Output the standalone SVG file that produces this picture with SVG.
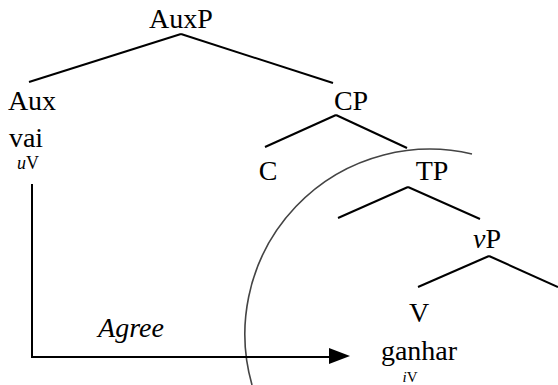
<svg xmlns="http://www.w3.org/2000/svg" width="558" height="385" viewBox="0 0 558 385">
<style>
.t{font-family:"Liberation Serif","Times New Roman",serif;font-size:28px;fill:#000;text-anchor:middle}
.s{font-family:"Liberation Serif","Times New Roman",serif;font-size:18px;fill:#000;text-anchor:middle}
.i{font-style:italic}
.e{stroke:#000;stroke-width:2;fill:none;stroke-linecap:butt}
</style>
<rect width="558" height="385" fill="#fff"/>
<path id="circle" d="M252,385 A185,185 0 0 1 472,154" fill="none" stroke="#444" stroke-width="1.6"/>
<g id="connectors">
<line class="e" x1="181" y1="34" x2="29" y2="82"/>
<line class="e" x1="181" y1="34" x2="333" y2="83"/>
<line class="e" x1="336" y1="115" x2="265" y2="147"/>
<line class="e" x1="336" y1="115" x2="407" y2="148"/>
<line class="e" x1="408" y1="187" x2="338" y2="218"/>
<line class="e" x1="408" y1="187" x2="480" y2="219"/>
<line class="e" x1="489" y1="256" x2="418" y2="287"/>
<line class="e" x1="489" y1="256" x2="558" y2="287"/>
<path class="e" d="M32,184 V357 H332"/>
<path d="M329,348 L350,356 L329,364 Z" fill="#000"/>
<text class="t i" x="131" y="337">Agree</text>
</g>
<g id="AuxP"><text class="t" x="181" y="28">AuxP</text></g>
<g id="Aux"><text class="t" x="32" y="110">Aux</text><text class="t" x="26" y="147">vai</text><text class="s" x="28" y="169"><tspan class="i">u</tspan>V</text></g>
<g id="CP"><text class="t" x="351" y="110">CP</text></g>
<g id="C"><text class="t" x="268" y="180">C</text></g>
<g id="TP"><text class="t" x="432" y="180">TP</text></g>
<g id="vP"><text class="t" x="487" y="248"><tspan class="i">v</tspan>P</text></g>
<g id="V"><text class="t" x="419" y="322">V</text><text class="t" x="419" y="360">ganhar</text><text class="s" x="410" y="381.5" style="font-size:15px"><tspan class="i">i</tspan>V</text></g>
</svg>
